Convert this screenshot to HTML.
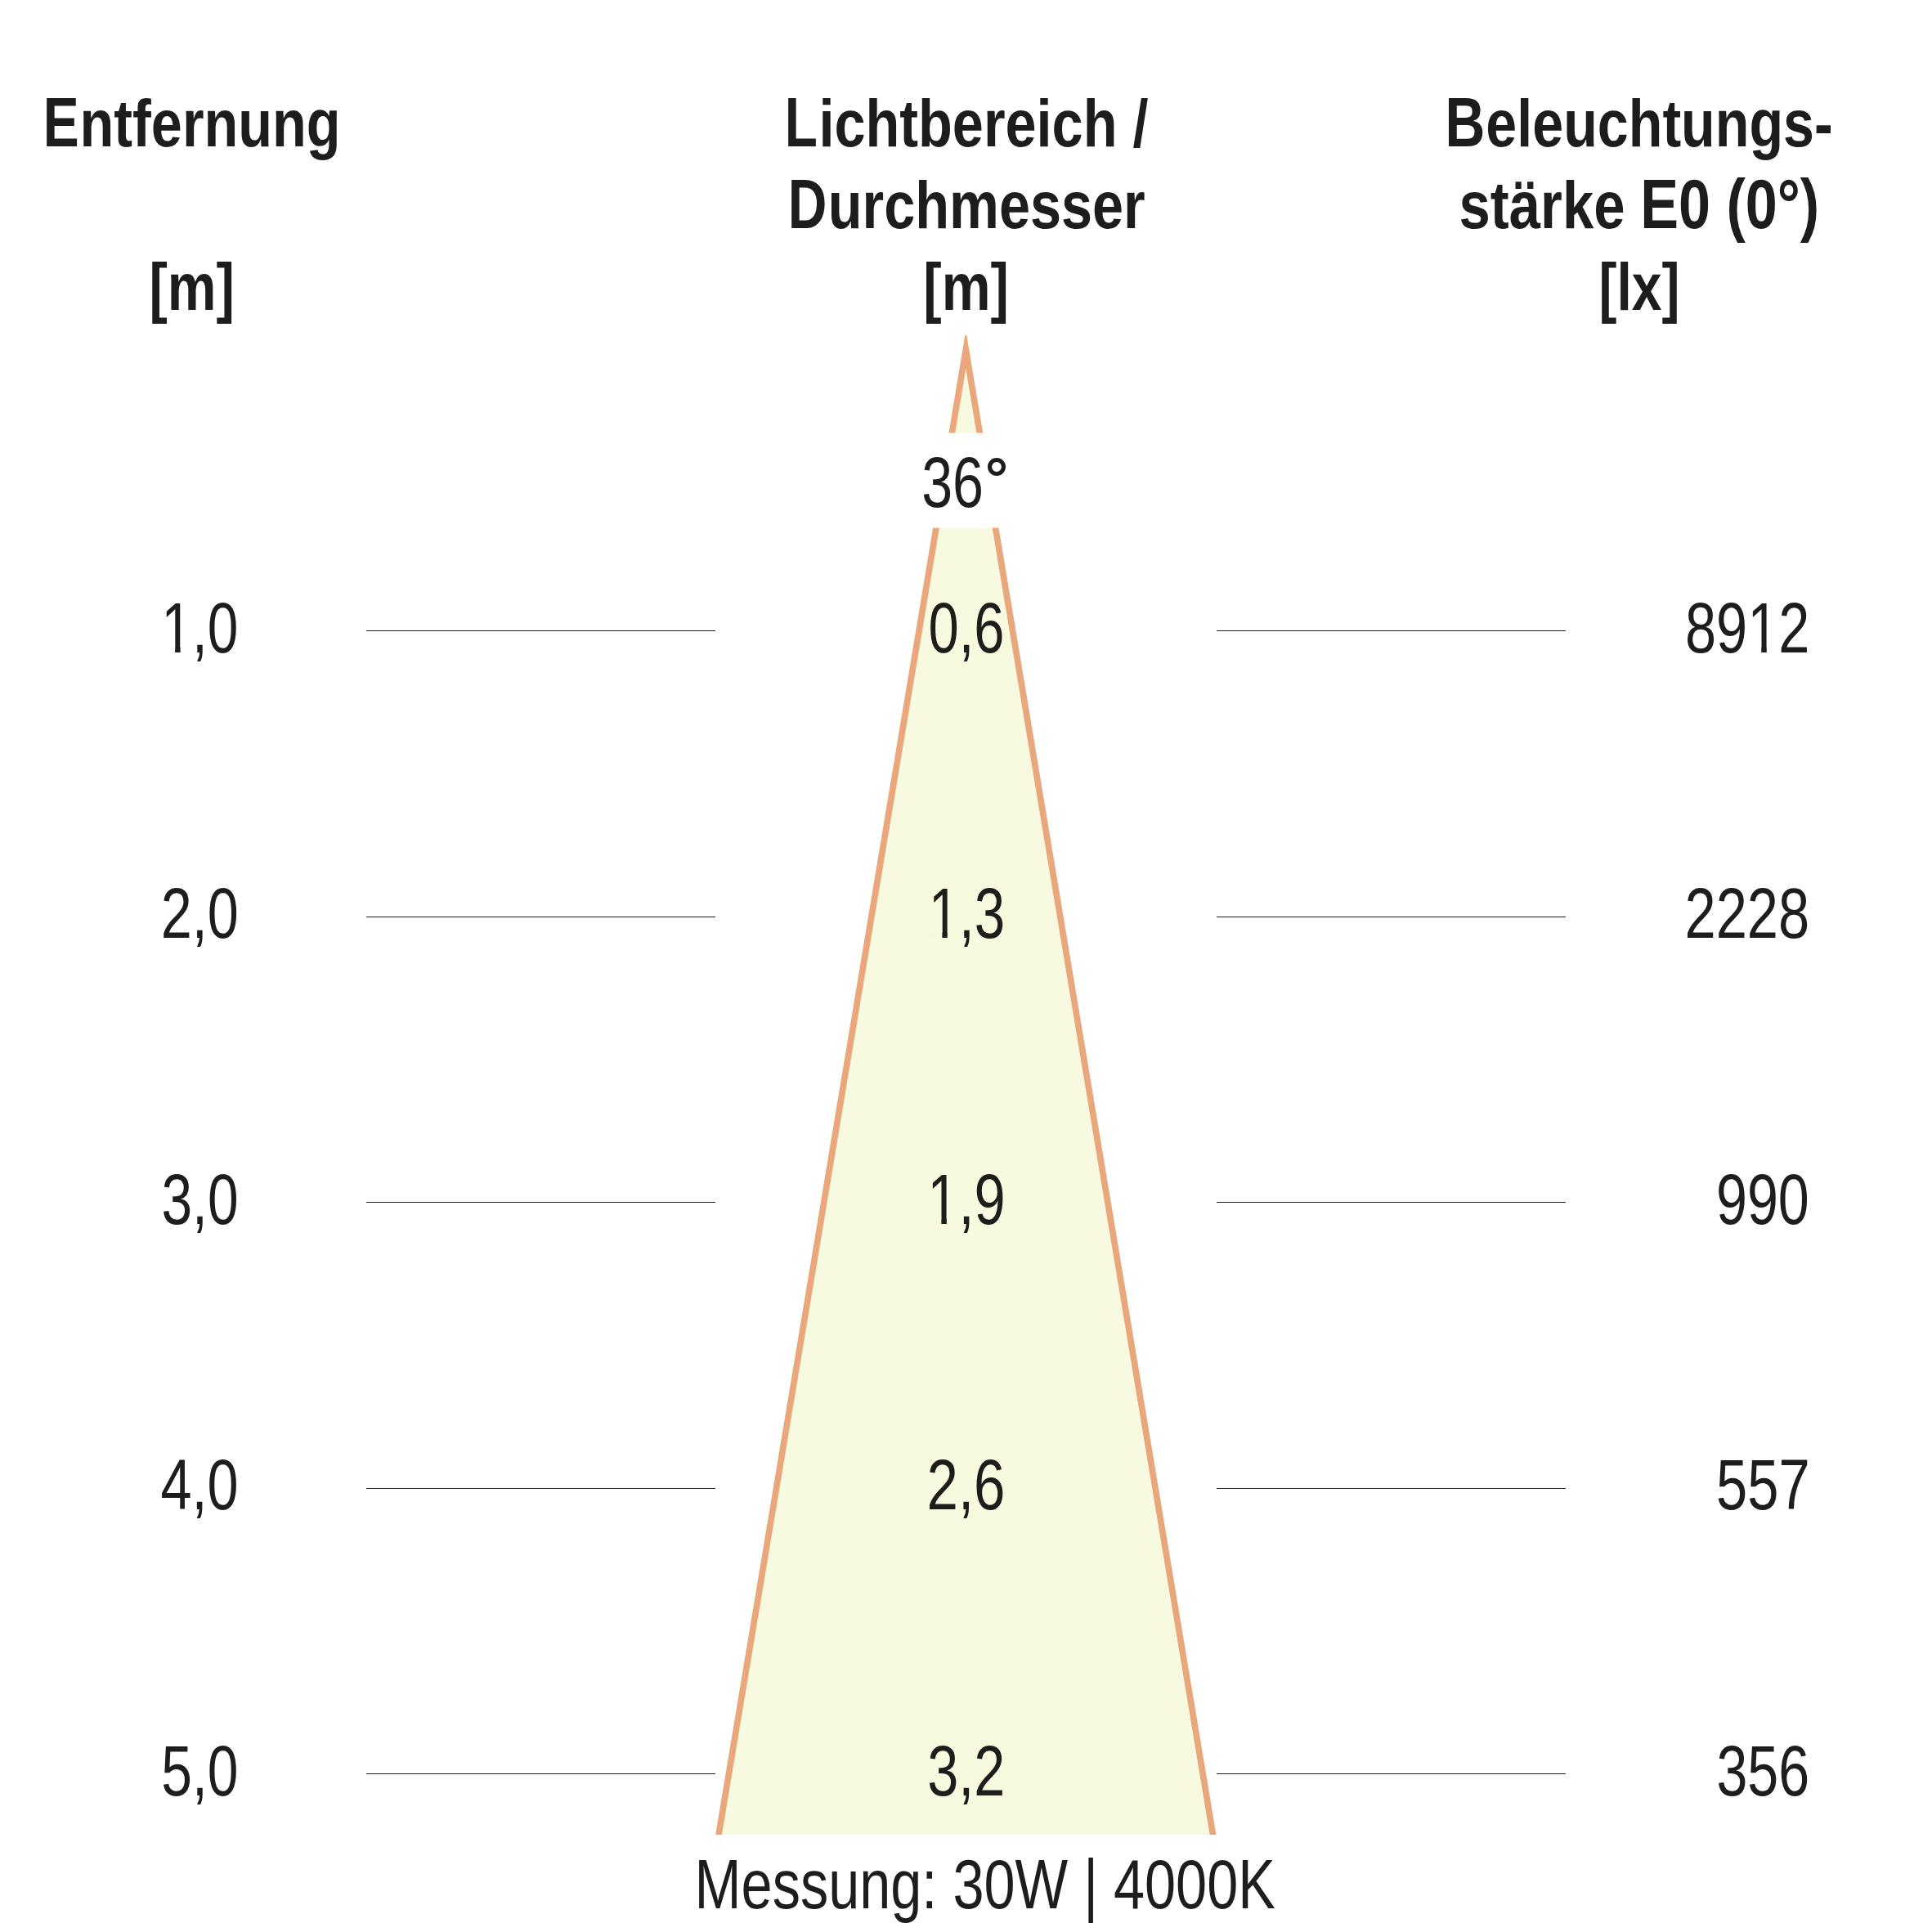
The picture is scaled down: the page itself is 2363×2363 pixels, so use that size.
<!DOCTYPE html>
<html><head><meta charset="utf-8"><title>Lichtverteilung</title>
<style>
html,body{margin:0;padding:0;background:#fff;}
body{width:2363px;height:2363px;overflow:hidden;position:relative;}
svg{position:absolute;left:0;top:0;display:block;}
text{font-family:"Liberation Sans",sans-serif;}
.b{font-weight:700;}
</style></head><body>
<svg width="2363" height="2363" viewBox="0 0 2363 2363">
<rect x="0" y="0" width="2363" height="2363" fill="#ffffff"/>
<polygon points="1180.30,410.00 1182.30,410.00 1487.48,2244.00 875.12,2244.00" fill="#eaa77c"/>
<polygon points="1181.30,450.88 1479.68,2244.00 882.92,2244.00" fill="#f8fae0"/>
<rect x="1101.30" y="529.50" width="160.00" height="116.10" fill="#ffffff"/>
<rect x="448.00" y="771.00" width="427.00" height="1.00" fill="#222222"/>
<rect x="1488.00" y="771.00" width="427.00" height="1.00" fill="#222222"/>
<rect x="448.00" y="1121.00" width="427.00" height="1.00" fill="#222222"/>
<rect x="1488.00" y="1121.00" width="427.00" height="1.00" fill="#222222"/>
<rect x="448.00" y="1470.00" width="427.00" height="1.00" fill="#222222"/>
<rect x="1488.00" y="1470.00" width="427.00" height="1.00" fill="#222222"/>
<rect x="448.00" y="1820.00" width="427.00" height="1.00" fill="#222222"/>
<rect x="1488.00" y="1820.00" width="427.00" height="1.00" fill="#222222"/>
<rect x="448.00" y="2169.00" width="427.00" height="1.00" fill="#222222"/>
<rect x="1488.00" y="2169.00" width="427.00" height="1.00" fill="#222222"/>
<text class="b" transform="translate(52.704 178.800) scale(0.77254 1.00000)" font-size="85.300" fill="#1d1d1b">E</text>
<text class="b" transform="translate(97.544 178.800) scale(0.80191 0.96000)" font-size="85.300" fill="#1d1d1b">ntfernung</text>
<text class="b" transform="translate(182.388 378.700) scale(0.78693 0.95000)" font-size="85.300" fill="#1d1d1b">[m]</text>
<text class="b" transform="translate(959.860 178.800) scale(0.77055 1.00000)" font-size="85.300" fill="#1d1d1b">L</text>
<text class="b" transform="translate(1001.465 178.800) scale(0.80219 0.96000)" font-size="85.300" fill="#1d1d1b">ichtbereich /</text>
<text class="b" transform="translate(963.656 278.800) scale(0.77289 1.00000)" font-size="85.300" fill="#1d1d1b">D</text>
<text class="b" transform="translate(1012.840 278.800) scale(0.80209 0.96000)" font-size="85.300" fill="#1d1d1b">urchmesser</text>
<text class="b" transform="translate(1129.297 378.700) scale(0.78840 0.95000)" font-size="85.300" fill="#1d1d1b">[m]</text>
<text class="b" transform="translate(1767.480 178.800) scale(0.79278 1.00000)" font-size="85.300" fill="#1d1d1b">B</text>
<text class="b" transform="translate(1817.373 178.800) scale(0.79950 0.96000)" font-size="85.300" fill="#1d1d1b">eleuchtungs-</text>
<text class="b" transform="translate(1784.553 278.800) scale(0.80777 0.96000)" font-size="85.300" fill="#1d1d1b">stärke</text>
<text class="b" transform="translate(2006.194 278.800) scale(0.82219 1.00000)" font-size="85.300" fill="#1d1d1b">E0 (0°)</text>
<text class="b" transform="translate(1955.476 378.700) scale(0.77442 0.95000)" font-size="85.300" fill="#1d1d1b">[lx]</text>
<text transform="translate(1127.165 619.900) scale(0.78220 1.00000)" font-size="87.200" fill="#1d1d1b">36</text>
<text transform="translate(197.373 797.900) scale(0.77659 1.00000)" font-size="87.200" fill="#1d1d1b">1,0</text>
<text transform="translate(1135.517 797.900) scale(0.76722 1.00000)" font-size="87.200" fill="#1d1d1b">0,6</text>
<text transform="translate(2060.976 797.900) scale(0.78631 1.00000)" font-size="87.200" fill="#1d1d1b">8912</text>
<text transform="translate(196.677 1146.800) scale(0.78438 1.00000)" font-size="87.200" fill="#1d1d1b">2,0</text>
<text transform="translate(1135.696 1146.800) scale(0.77191 1.00000)" font-size="87.200" fill="#1d1d1b">1,3</text>
<text transform="translate(2060.459 1146.800) scale(0.78747 1.00000)" font-size="87.200" fill="#1d1d1b">2228</text>
<text transform="translate(197.476 1496.800) scale(0.77642 1.00000)" font-size="87.200" fill="#1d1d1b">3,0</text>
<text transform="translate(1134.330 1496.800) scale(0.78681 1.00000)" font-size="87.200" fill="#1d1d1b">1,9</text>
<text transform="translate(2098.943 1496.800) scale(0.78274 1.00000)" font-size="87.200" fill="#1d1d1b">990</text>
<text transform="translate(196.533 1845.800) scale(0.78480 1.00000)" font-size="87.200" fill="#1d1d1b">4,0</text>
<text transform="translate(1133.497 1845.800) scale(0.79146 1.00000)" font-size="87.200" fill="#1d1d1b">2,6</text>
<text transform="translate(2099.067 1845.800) scale(0.78712 1.00000)" font-size="87.200" fill="#1d1d1b">557</text>
<text transform="translate(197.307 2195.800) scale(0.77752 1.00000)" font-size="87.200" fill="#1d1d1b">5,0</text>
<text transform="translate(1134.264 2195.800) scale(0.78530 1.00000)" font-size="87.200" fill="#1d1d1b">3,2</text>
<text transform="translate(2099.406 2195.800) scale(0.78126 1.00000)" font-size="87.200" fill="#1d1d1b">356</text>
<text transform="translate(849.589 2334.000) scale(0.80079 1.00000)" font-size="85.500" fill="#1d1d1b">Messung: 30W | 4000K</text>
<circle cx="1219.00" cy="571.00" r="8.45" fill="none" stroke="#1d1d1b" stroke-width="5.10"/>
<rect x="202.00" y="790.02" width="12.17" height="8.30" fill="#ffffff"/>
<rect x="220.62" y="790.02" width="11.80" height="8.30" fill="#ffffff"/>
<rect x="2141.93" y="790.02" width="12.32" height="8.30" fill="#ffffff"/>
<rect x="2160.78" y="790.02" width="11.95" height="8.30" fill="#ffffff"/>
<rect x="1140.30" y="1138.92" width="12.09" height="8.30" fill="#f8fae0"/>
<rect x="1158.80" y="1138.92" width="11.73" height="8.30" fill="#f8fae0"/>
<rect x="1139.02" y="1488.92" width="12.33" height="8.30" fill="#f8fae0"/>
<rect x="1157.88" y="1488.92" width="11.96" height="8.30" fill="#f8fae0"/>
</svg>
</body></html>
